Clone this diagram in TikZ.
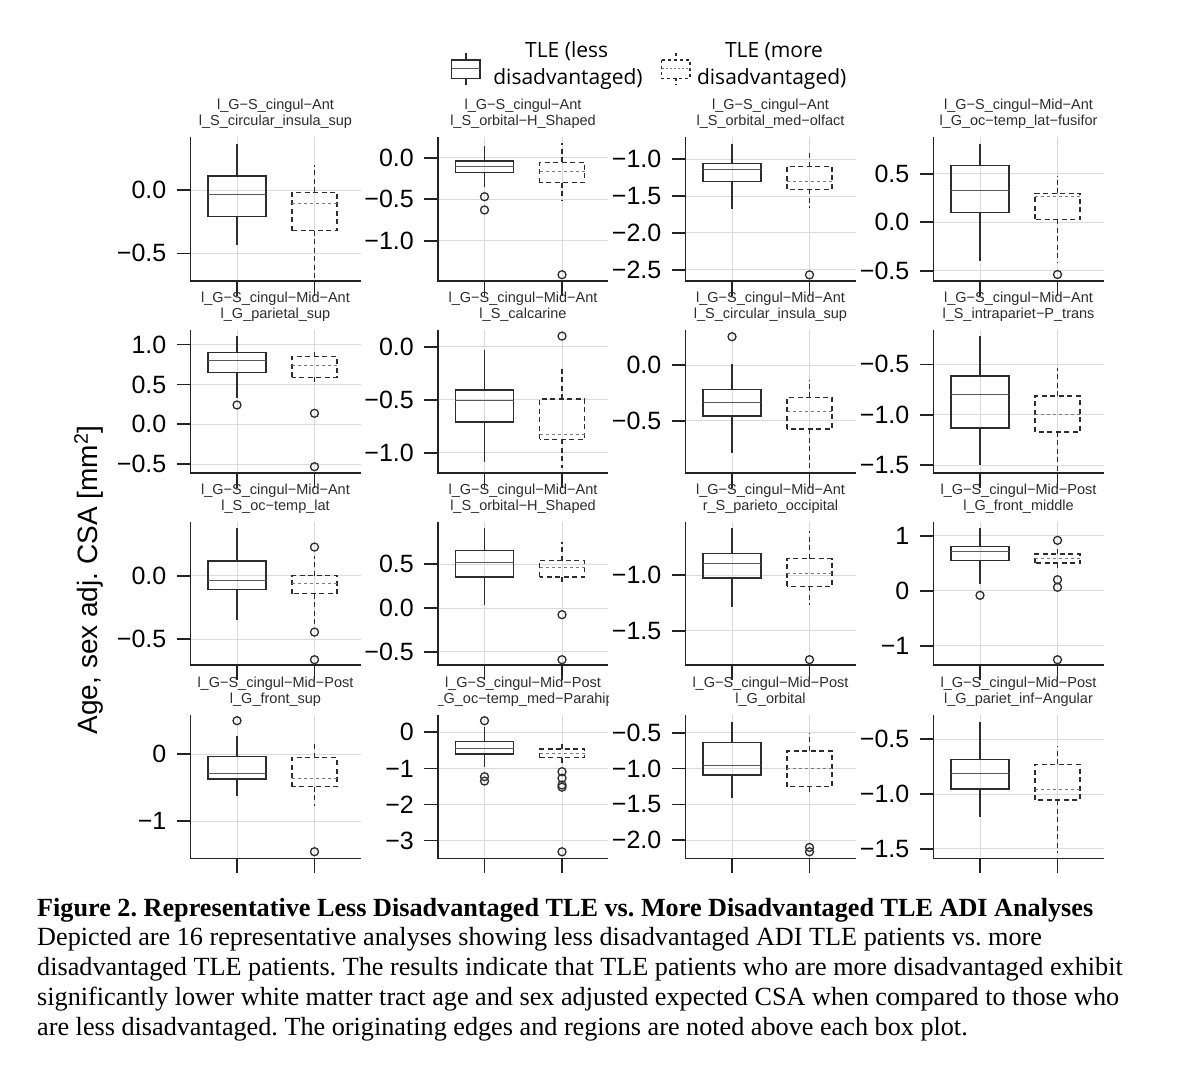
\documentclass[tikz,border=0pt]{standalone}
\usepackage{fontspec}
\setmainfont{Liberation Serif}
\setsansfont{Liberation Sans}
\newfontfamily\legendfont{Open Sans}
\usetikzlibrary{positioning}
\frenchspacing
\definecolor{axiscol}{RGB}{35,35,35}
\definecolor{boxcol}{RGB}{45,45,45}
\definecolor{medcol}{RGB}{90,90,90}
\definecolor{gridcol}{RGB}{218,218,218}
\definecolor{stripcol}{RGB}{45,45,45}

% current panel: axis x, top y, pixel of value 0, pixels per unit, name
\newcommand{\setpanel}[5]{\def\ax{#1}\def\ty{#2}\def\yz{#3}\def\yk{#4}\def\pn{#5}}
\newcommand{\ypos}[1]{\yz-\yk*(#1)}

% grid, axes, ticks and tick labels (list of value/label)
\newcommand{\panelframe}[1]{%
  \foreach \val/\lab in {#1}
    \draw[gridline] (\ax,{\ypos{\val}}) -- ({\ax+170},{\ypos{\val}});
  \foreach \dx in {46.5,124}
    \draw[gridline] ({\ax+\dx},\ty) -- ({\ax+\dx},{\ty+143.7});
  \draw[axisline] (\ax,\ty) -- (\ax,{\ty+143.7}) -- ({\ax+170},{\ty+143.7});
  \foreach \val/\lab [count=\i] in {#1}{
    \draw[axisline] ({\ax-14},{\ypos{\val}}) -- (\ax,{\ypos{\val}});
    \node[ticklabel] (\pn tick\i) at ({\ax-24},{\ypos{\val}}) {\lab};
  }
  \foreach \dx in {46.5,124}
    \draw[axisline] ({\ax+\dx},{\ty+143.7}) -- ({\ax+\dx},{\ty+158.7});
}

% strip title, clipped to the panel width
\newcommand{\paneltitle}[2]{%
  \begin{scope}
    \clip (\ax,{\ty-45}) rectangle ({\ax+170},{\ty-2});
    \node[striptext] (\pn top) at ({\ax+85},{\ty-27}) {#1};
    \node[striptext] (\pn sub) at ({\ax+85},{\ty-11}) {#2};
  \end{scope}}

% style, median style, x offset, half width, lo, q1, med, q3, hi
\newcommand{\bxp}[9]{%
  \draw[#1] ({\ax+#3},{\ypos{#6}}) -- ({\ax+#3},{\ypos{#5}});
  \draw[#1] ({\ax+#3},{\ypos{#8}}) -- ({\ax+#3},{\ypos{#9}});
  \draw[#1] ({\ax+#3-#4},{\ypos{#6}}) rectangle ({\ax+#3+#4},{\ypos{#8}});
  \draw[#2] ({\ax+#3-#4},{\ypos{#7}}) -- ({\ax+#3+#4},{\ypos{#7}});
}
\newcommand{\lessbox}[5]{\bxp{lessline}{lessmed}{46.5}{29.2}{#1}{#2}{#3}{#4}{#5}}
\newcommand{\morebox}[5]{\bxp{moreline}{moremed}{124}{22.5}{#1}{#2}{#3}{#4}{#5}}
\newcommand{\outliers}[2]{\foreach \ov in {#2} \draw[outlier] ({\ax+#1},{\ypos{\ov}}) circle[radius=4pt];}

\begin{document}
\begin{tikzpicture}[
  x=1pt, y=-1pt,
  gridline/.style={draw=gridcol, line width=0.9pt},
  axisline/.style={draw=axiscol, line width=1.7pt},
  lessline/.style={draw=boxcol, line width=1.5pt},
  lessmed/.style={draw=medcol, line width=1pt},
  moreline/.style={draw=boxcol, line width=1.5pt, dash pattern=on 5pt off 3.5pt},
  moremed/.style={draw=medcol!80, line width=1pt, dash pattern=on 3pt off 3pt},
  outlier/.style={draw=boxcol, line width=1.3pt},
  ticklabel/.style={anchor=east, inner sep=0pt, font=\sffamily\fontsize{25}{30}\selectfont},
  striptext/.style={anchor=base, inner sep=0pt, text=stripcol, font=\sffamily\fontsize{14.5}{16}\selectfont},
  legendtext/.style={anchor=base, inner sep=0pt, font=\legendfont\fontsize{21}{27}\selectfont},
  captiontext/.style={anchor=base west, inner sep=0pt, align=left, font=\rmfamily\fontsize{26.2}{29.8}\selectfont},
  ylabeltext/.style={rotate=90, anchor=base, inner sep=0pt, font=\sffamily\fontsize{28}{34}\selectfont}
]
\fill[white] (0,0) rectangle (1182,1078);
\useasboundingbox (0,0) rectangle (1182,1078);

% legend
\draw[lessline] (465.8,53.3) -- (465.8,60) (465.8,78.3) -- (465.8,85);
\draw[lessline] (451.7,60) rectangle (480,78.3);
\draw[lessmed] (451.7,69) -- (480,69);
\node[legendtext] (lessa) at (566.7,58) {TLE (less};
\node[legendtext] (lessb) at (568,85) {disadvantaged)};
\draw[moreline, dash pattern=on 3pt off 3pt] (675.8,53.3) -- (675.8,60) (675.8,78.3) -- (675.8,85);
\draw[moreline, dash pattern=on 3pt off 3pt] (661.7,60) rectangle (690,78.3);
\draw[moremed, dash pattern=on 2pt off 2pt] (661.7,69) -- (690,69);
\node[legendtext] (morea) at (774,58) {TLE (more};
\node[legendtext] (moreb) at (771.7,85) {disadvantaged)};

% y axis title
\node[ylabeltext] (ylab) at (97,580) {Age, sex adj. CSA [mm\textsuperscript{2}]};

% row 1
\setpanel{190.5}{137}{190}{126.7}{p11}
\panelframe{0/0.0,-0.5/−0.5}
\lessbox{-0.434}{-0.211}{-0.039}{0.110}{0.363}
\morebox{-0.71}{-0.321}{-0.105}{-0.018}{0.197}
\paneltitle{l\_G−S\_cingul−Ant}{l\_S\_circular\_insula\_sup}

\setpanel{438}{137}{157.7}{83}{p12}
\panelframe{0/0.0,-0.5/−0.5,-1/−1.0}
\lessbox{-0.357}{-0.18}{-0.108}{-0.04}{0.141}
\outliers{46.5}{-0.47,-0.63}
\morebox{-0.518}{-0.30}{-0.169}{-0.055}{0.173}
\outliers{124}{-1.41}
\paneltitle{l\_G−S\_cingul−Ant}{l\_S\_orbital−H\_Shaped}

\setpanel{685.5}{137}{85.7}{73.6}{p13}
\panelframe{-1/−1.0,-1.5/−1.5,-2/−2.0,-2.5/−2.5}
\lessbox{-1.675}{-1.304}{-1.145}{-1.054}{-0.792}
\morebox{-1.666}{-1.408}{-1.304}{-1.10}{-0.874}
\outliers{124}{-2.57}
\paneltitle{l\_G−S\_cingul−Ant}{l\_S\_orbital\_med−olfact}

\setpanel{933.5}{137}{222.3}{96.7}{p14}
\panelframe{0.5/0.5,0/0.0,-0.5/−0.5}
\lessbox{-0.398}{0.103}{0.324}{0.585}{0.81}
\morebox{-0.425}{0.031}{0.27}{0.30}{0.478}
\outliers{124}{-0.54}
\paneltitle{l\_G−S\_cingul−Mid−Ant}{l\_G\_oc−temp\_lat−fusifor}

% row 2
\setpanel{190.5}{329.5}{424.3}{79.7}{p21}
\panelframe{1/1.0,0.5/0.5,0/0.0,-0.5/−0.5}
\lessbox{0.326}{0.648}{0.80}{0.903}{1.108}
\outliers{46.5}{0.242}
\morebox{0.514}{0.59}{0.744}{0.848}{0.911}
\outliers{124}{0.138,-0.532}
\paneltitle{l\_G−S\_cingul−Mid−Ant}{l\_G\_parietal\_sup}

\setpanel{438}{329.5}{346.7}{106}{p22}
\panelframe{0/0.0,-0.5/−0.5,-1/−1.0}
\lessbox{-1.085}{-0.708}{-0.509}{-0.408}{-0.031}
\morebox{-1.145}{-0.874}{-0.83}{-0.494}{-0.189}
\outliers{124}{0.10}
\paneltitle{l\_G−S\_cingul−Mid−Ant}{l\_S\_calcarine}

\setpanel{685.5}{329.5}{365}{111.3}{p23}
\panelframe{0/0.0,-0.5/−0.5}
\lessbox{-0.788}{-0.458}{-0.335}{-0.218}{0.009}
\outliers{46.5}{0.254}
\morebox{-0.958}{-0.575}{-0.419}{-0.29}{-0.135}
\paneltitle{l\_G−S\_cingul−Mid−Ant}{l\_S\_circular\_insula\_sup}

\setpanel{933.5}{329.5}{314}{100.7}{p24}
\panelframe{-0.5/−0.5,-1/−1.0,-1.5/−1.5}
\lessbox{-1.5}{-1.13}{-0.798}{-0.616}{-0.219}
\morebox{-1.566}{-1.17}{-1.0}{-0.815}{-0.54}
\paneltitle{l\_G−S\_cingul−Mid−Ant}{l\_S\_intrapariet−P\_trans}

% row 3
\setpanel{190.5}{521.5}{575.7}{126.7}{p31}
\panelframe{0/0.0,-0.5/−0.5}
\lessbox{-0.347}{-0.11}{-0.039}{0.118}{0.376}
\morebox{-0.387}{-0.142}{-0.058}{0.0}{0.153}
\outliers{124}{0.226,-0.445,-0.663}
\paneltitle{l\_G−S\_cingul−Mid−Ant}{l\_S\_oc−temp\_lat}

\setpanel{438}{521.5}{608}{87.6}{p32}
\panelframe{0.5/0.5,0/0.0,-0.5/−0.5}
\lessbox{0.038}{0.354}{0.521}{0.654}{0.913}
\morebox{0.285}{0.354}{0.464}{0.54}{0.75}
\outliers{124}{-0.076,-0.59}
\paneltitle{l\_G−S\_cingul−Mid−Ant}{l\_S\_orbital−H\_Shaped}

\setpanel{685.5}{521.5}{464.6}{110.7}{p33}
\panelframe{-1/−1.0,-1.5/−1.5}
\lessbox{-1.289}{-1.024}{-0.889}{-0.805}{-0.573}
\morebox{-1.266}{-1.1}{-0.986}{-0.85}{-0.603}
\outliers{124}{-1.762}
\paneltitle{l\_G−S\_cingul−Mid−Ant}{r\_S\_parieto\_occipital}

\setpanel{933.5}{521.5}{590.7}{55}{p34}
\panelframe{1/1,0/0,-1/−1}
\lessbox{0.122}{0.545}{0.716}{0.807}{1.14}
\outliers{46.5}{-0.084}
\morebox{0.412}{0.503}{0.594}{0.667}{0.776}
\outliers{124}{0.916,0.2,0.062,-1.255}
\paneltitle{l\_G−S\_cingul−Mid−Post}{l\_G\_front\_middle}

% row 4
\setpanel{190.5}{714.7}{754}{67}{p41}
\panelframe{0/0,-1/−1}
\lessbox{-0.627}{-0.373}{-0.289}{-0.04}{0.269}
\outliers{46.5}{0.497}
\morebox{-0.771}{-0.488}{-0.363}{-0.055}{0.175}
\outliers{124}{-1.458}
\paneltitle{l\_G−S\_cingul−Mid−Post}{l\_G\_front\_sup}

\setpanel{438}{714.7}{732.3}{36.1}{p42}
\panelframe{0/0,-1/−1,-2/−2,-3/−3}
\lessbox{-0.953}{-0.6}{-0.443}{-0.26}{0.155}
\outliers{46.5}{0.32,-1.23,-1.35}
\morebox{-0.86}{-0.70}{-0.58}{-0.462}{-0.288}
\outliers{124}{-1.09,-1.27,-1.46,-1.52,-3.31}
\paneltitle{l\_G−S\_cingul−Mid−Post}{l\_G\_oc−temp\_med−Parahip}

\setpanel{685.5}{714.7}{696.85}{71.7}{p43}
\panelframe{-0.5/−0.5,-1/−1.0,-1.5/−1.5,-2/−2.0}
\lessbox{-1.415}{-1.09}{-0.964}{-0.634}{-0.347}
\morebox{-1.337}{-1.253}{-1.006}{-0.755}{-0.508}
\outliers{124}{-2.10,-2.16}
\paneltitle{l\_G−S\_cingul−Mid−Post}{l\_G\_orbital}

\setpanel{933.5}{714.7}{684.6}{109.4}{p44}
\panelframe{-0.5/−0.5,-1/−1.0,-1.5/−1.5}
\lessbox{-1.207}{-0.954}{-0.817}{-0.683}{-0.339}
\morebox{-1.536}{-1.055}{-0.963}{-0.729}{-0.561}
\paneltitle{l\_G−S\_cingul−Mid−Post}{l\_G\_pariet\_inf−Angular}

% caption (base is the last line)
\node[captiontext] (caption) at (37,1035.2) {\textbf{Figure 2. Representative Less Disadvantaged TLE vs. More Disadvantaged TLE ADI Analyses}\\
Depicted are 16 representative analyses showing less disadvantaged ADI TLE patients vs. more\\
disadvantaged TLE patients. The results indicate that TLE patients who are more disadvantaged exhibit\\
significantly lower white matter tract age and sex adjusted expected CSA when compared to those who\\
are less disadvantaged. The originating edges and regions are noted above each box plot.};
\end{tikzpicture}
\end{document}
